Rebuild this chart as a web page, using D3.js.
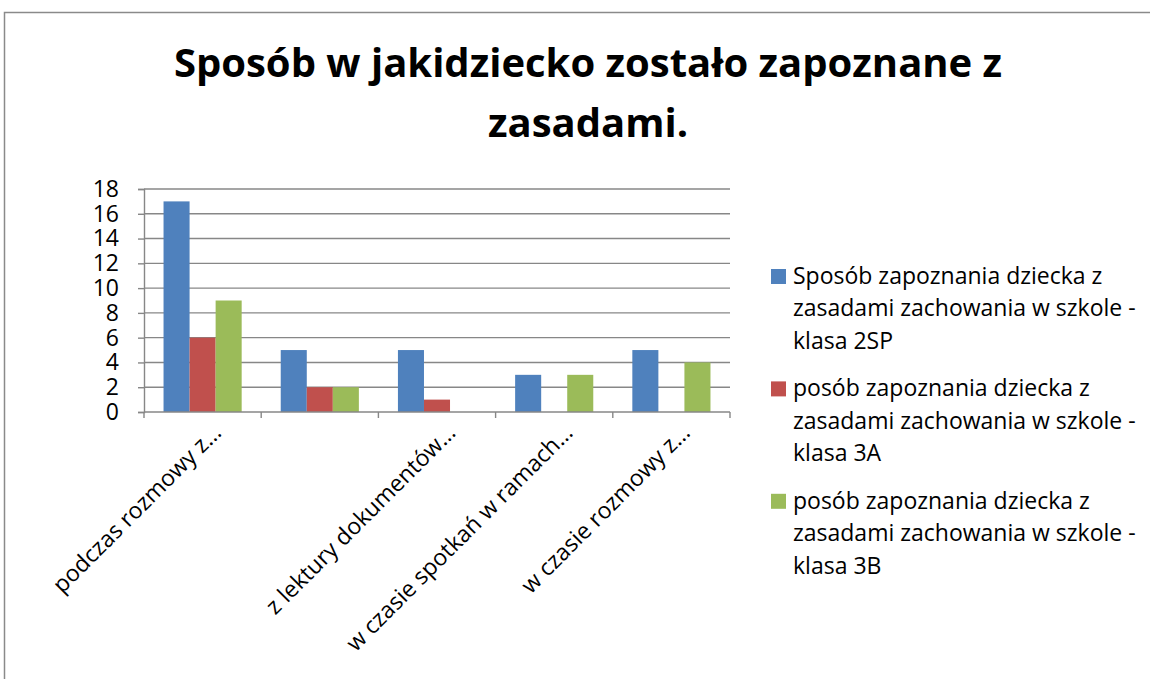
<!DOCTYPE html>
<html>
<head>
<meta charset="utf-8">
<script src="https://cdn.jsdelivr.net/npm/d3@7"></script>
<style>
  html, body { margin: 0; padding: 0; background: #fff; }
  svg { display: block; }
</style>
</head>
<body>
<svg id="chart" width="1150" height="679"></svg>
<script>
// Category labels (second category has no visible label)
const categories = [
  "podczas rozmowy z…",
  "",
  "z lektury dokumentów…",
  "w czasie spotkań w ramach…",
  "w czasie rozmowy z…"
];

const seriesNames = [
  "Sposób zapoznania dziecka z zasadami zachowania w szkole - klasa 2SP",
  "posób zapoznania dziecka z zasadami zachowania w szkole - klasa 3A",
  "posób zapoznania dziecka z zasadami zachowania w szkole - klasa 3B"
];

const klasa2SP = [17, 5, 5, 3, 5];
const klasa3A  = [6, 2, 1, 0, 0];
const klasa3B  = [9, 2, 0, 3, 4];

const yTicks = [0, 2, 4, 6, 8, 10, 12, 14, 16, 18];

const colors = ["#4F81BD", "#C0504D", "#9BBB59"];

const titleLines = ["Sposób w jakidziecko zostało zapoznane z", "zasadami."];

// Legend entries wrapped as they appear
const legendLines = [
  ["Sposób zapoznania dziecka z", "zasadami zachowania w szkole -", "klasa 2SP"],
  ["posób zapoznania dziecka z", "zasadami zachowania w szkole -", "klasa 3A"],
  ["posób zapoznania dziecka z", "zasadami zachowania w szkole -", "klasa 3B"]
];

const seriesValues = [klasa2SP, klasa3A, klasa3B];

const svg = d3.select("#chart");
const FONT = "'Open Sans', 'Noto Sans', sans-serif";
const GRID = "#878787";

// Outer chart frame
svg.append("rect")
  .attr("x", 4.5).attr("y", 12.5)
  .attr("width", 1160).attr("height", 700)
  .attr("fill", "none")
  .attr("stroke", "#8a8a8a")
  .attr("stroke-width", 1.5);

// Title
svg.append("g").selectAll("text")
  .data(titleLines)
  .join("text")
  .attr("x", 588)
  .attr("y", (d, i) => 77 + i * 60)
  .attr("text-anchor", "middle")
  .attr("font-family", FONT)
  .attr("font-weight", "bold")
  .attr("font-size", 40)
  .attr("fill", "#000")
  .text(d => d);

// Plot area
const plot = { left: 144, right: 730, top: 189, bottom: 412 };

const x = d3.scaleBand()
  .domain(d3.range(categories.length))
  .range([plot.left, plot.right])
  .padding(0);

const bw = x.bandwidth();
const barW = bw / 4.5;
const xs = d3.scaleBand()
  .domain(d3.range(seriesValues.length))
  .range([barW * 0.75, bw - barW * 0.75])
  .padding(0);

const y = d3.scaleLinear()
  .domain([0, 18])
  .range([plot.bottom, plot.top]);

// Horizontal gridlines
svg.append("g").selectAll("line")
  .data(yTicks.filter(t => t > 0))
  .join("line")
  .attr("x1", plot.left).attr("x2", plot.right)
  .attr("y1", d => y(d)).attr("y2", d => y(d))
  .attr("stroke", GRID)
  .attr("stroke-width", 1.4);

// Bars
const groups = svg.append("g").selectAll("g")
  .data(seriesValues)
  .join("g")
  .attr("fill", (d, i) => colors[i]);

groups.each(function (vals, si) {
  d3.select(this).selectAll("rect")
    .data(vals.map((v, ci) => ({ v, ci })).filter(d => d.v > 0))
    .join("rect")
    .attr("x", d => x(d.ci) + xs(si))
    .attr("width", xs.bandwidth())
    .attr("y", d => y(d.v))
    .attr("height", d => y(0) - y(d.v));
});

// Y axis
const yAxis = d3.axisLeft(y)
  .tickValues(yTicks)
  .tickSize(6)
  .tickPadding(19)
  .tickFormat(d3.format("d"));

const yg = svg.append("g")
  .attr("transform", `translate(${plot.left},0)`)
  .call(yAxis);
yg.select(".domain").attr("stroke", GRID).attr("stroke-width", 1.4);
yg.selectAll(".tick line").attr("stroke", GRID).attr("stroke-width", 1.4);
yg.selectAll(".tick text")
  .attr("font-family", FONT)
  .attr("font-size", 23)
  .attr("fill", "#000");

// X axis line and boundary ticks
const xg = svg.append("g");
xg.append("line")
  .attr("x1", plot.left).attr("x2", plot.right)
  .attr("y1", y(0)).attr("y2", y(0))
  .attr("stroke", GRID).attr("stroke-width", 1.4);
const bounds = d3.range(categories.length).map(i => x(i)).concat([plot.right]);
xg.selectAll("line.tick")
  .data(bounds)
  .join("line")
  .attr("class", "tick")
  .attr("x1", d => d).attr("x2", d => d)
  .attr("y1", y(0)).attr("y2", y(0) + 6)
  .attr("stroke", GRID).attr("stroke-width", 1.4);

// Rotated category labels
xg.selectAll("text")
  .data(categories.map((c, i) => ({ c, i })).filter(d => d.c !== ""))
  .join("text")
  .attr("transform", d => `translate(${x(d.i) + bw / 2 + 20},${y(0) + 22}) rotate(-45)`)
  .attr("text-anchor", "end")
  .attr("font-family", FONT)
  .attr("font-size", 23)
  .attr("fill", "#000")
  .text(d => d.c);

// Legend
const legend = svg.append("g").attr("transform", "translate(771,269)");
const entry = legend.selectAll("g")
  .data(legendLines)
  .join("g")
  .attr("transform", (d, i) => `translate(0,${i * 112.4})`);

entry.append("rect")
  .attr("width", 15).attr("height", 15)
  .attr("fill", (d, i) => colors[i]);

entry.each(function (lines) {
  d3.select(this).selectAll("text")
    .data(lines)
    .join("text")
    .attr("x", 22)
    .attr("y", (d, j) => 15 + j * 32.4)
    .attr("font-family", FONT)
    .attr("font-size", 23)
    .attr("fill", "#000")
    .text(d => d);
});
</script>
</body>
</html>
